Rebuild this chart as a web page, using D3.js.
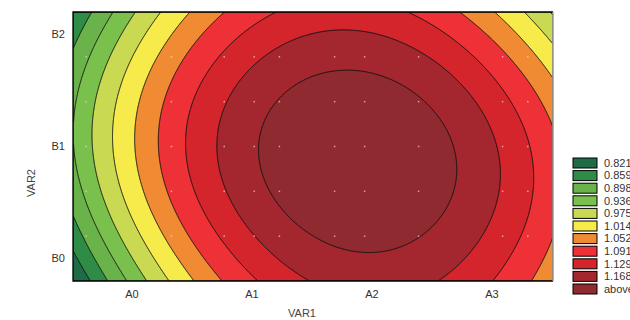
<!DOCTYPE html>
<html>
<head>
<meta charset="utf-8">
<script src="https://cdn.jsdelivr.net/npm/d3@7"></script>
<style>
  body { margin: 0; background: #fff; }
  svg { display: block; font-family: "Liberation Sans", Arial, sans-serif; }
</style>
</head>
<body>
<script>
const var1Labels = ["A0", "A1", "A2", "A3"]
const var2Labels = ["B0", "B1", "B2"]
const levels = [0.821, 0.859, 0.898, 0.936, 0.975, 1.014, 1.052, 1.091, 1.129, 1.168]
const legendLabels = ["0.821", "0.859", "0.898", "0.936", "0.975", "1.014", "1.052", "1.091", "1.129", "1.168", "above"]
const bandColors = ["#1f6b47", "#2e8c47", "#6ab24a", "#79c14c", "#c9d952", "#f6eb4a",
                    "#f18b33", "#ee3136", "#d3252b", "#a4272f", "#8e2a30"]

// surface, on a coarse grid (VAR1 index, VAR2 index)
const gridX = [-0.5, 0, 0.5, 1, 1.5, 2, 2.5, 3, 3.5]
const gridY = [2.2, 1.8, 1.4, 1.0, 0.6, 0.2, -0.2]
const surface = [
  [0.819, 0.933, 1.018, 1.075, 1.107, 1.108, 1.072, 1.014, 0.933],
  [0.864, 0.986, 1.065, 1.116, 1.150, 1.152, 1.127, 1.071, 0.990],
  [0.893, 1.002, 1.091, 1.148, 1.186, 1.190, 1.170, 1.108, 1.035],
  [0.896, 1.006, 1.098, 1.160, 1.194, 1.201, 1.181, 1.135, 1.060],
  [0.885, 1.000, 1.090, 1.159, 1.194, 1.203, 1.184, 1.133, 1.068],
  [0.830, 0.960, 1.052, 1.128, 1.173, 1.185, 1.163, 1.107, 1.052],
  [0.780, 0.920, 1.010, 1.081, 1.129, 1.147, 1.131, 1.090, 1.030]
]

// faint sample markers
const obsX = [-0.39, 0.32, 0.76, 1.01, 1.22, 1.68, 1.93, 2.38, 3.08, 3.29]
const obsY = [0.2, 0.6, 1.0, 1.4, 1.8]

const width = 630
const height = 320

const x = d3.scaleLinear([-0.5, 3.5], [73, 553])
const y = d3.scaleLinear([-0.2, 2.2], [281, 12])

// smooth the read grid with a least squares polynomial surface (total degree 4)
function fitSurface() {
  const terms = []
  for (let p = 0; p <= 4; p++)
    for (let q = 0; q <= 4 - p; q++) terms.push([p, q])
  const nu = v => (v - 1.5) / 2
  const nv = v => (v - 1) / 1.2
  const n = terms.length
  const A = terms.map(() => new Array(n).fill(0))
  const b = new Array(n).fill(0)
  surface.forEach((row, r) => row.forEach((z, c) => {
    const u = nu(gridX[c]), v = nv(gridY[r])
    const phi = terms.map(([p, q]) => u ** p * v ** q)
    for (let i = 0; i < n; i++) {
      b[i] += phi[i] * z
      for (let j = 0; j < n; j++) A[i][j] += phi[i] * phi[j]
    }
  }))
  // gaussian elimination
  for (let k = 0; k < n; k++) {
    let piv = k
    for (let i = k + 1; i < n; i++) if (Math.abs(A[i][k]) > Math.abs(A[piv][k])) piv = i
    ;[A[k], A[piv]] = [A[piv], A[k]]
    ;[b[k], b[piv]] = [b[piv], b[k]]
    for (let i = k + 1; i < n; i++) {
      const f = A[i][k] / A[k][k]
      for (let j = k; j < n; j++) A[i][j] -= f * A[k][j]
      b[i] -= f * b[k]
    }
  }
  const coef = new Array(n).fill(0)
  for (let i = n - 1; i >= 0; i--) {
    let s = b[i]
    for (let j = i + 1; j < n; j++) s -= A[i][j] * coef[j]
    coef[i] = s / A[i][i]
  }
  return (vx, vy) => {
    const u = nu(vx), v = nv(vy)
    let s = 0
    terms.forEach(([p, q], k) => { s += coef[k] * u ** p * v ** q })
    return s
  }
}

const sample = fitSurface()

const x0 = x.range()[0], y0 = y.range()[1]
const cols = x.range()[1] - x0
const rows = y.range()[0] - y0
const values = new Array(cols * rows)
for (let j = 0; j < rows; j++)
  for (let i = 0; i < cols; i++)
    values[j * cols + i] = sample(x.invert(x0 + i + 0.5), y.invert(y0 + j + 0.5))

const contours = d3.contours().size([cols, rows]).thresholds(levels)(values)

const svg = d3.select("body").append("svg")
  .attr("width", width)
  .attr("height", height)

svg.append("clipPath").attr("id", "plot-clip")
  .append("rect").attr("width", cols).attr("height", rows)

const plot = svg.append("g")
  .attr("transform", `translate(${x0},${y0})`)
  .attr("clip-path", "url(#plot-clip)")

plot.append("rect")
  .attr("width", cols)
  .attr("height", rows)
  .attr("fill", bandColors[0])

plot.selectAll("path")
  .data(contours)
  .join("path")
  .attr("d", d3.geoPath())
  .attr("fill", (d, i) => bandColors[i + 1])
  .attr("stroke", "#111")
  .attr("stroke-width", 1)
  .attr("stroke-linejoin", "round")

svg.append("g")
  .selectAll("rect")
  .data(d3.cross(obsX, obsY))
  .join("rect")
  .attr("x", d => x(d[0]) - 0.75)
  .attr("y", d => y(d[1]) - 0.75)
  .attr("width", 1.5)
  .attr("height", 1.5)
  .attr("fill", "#f4d4d4")
  .attr("opacity", 0.7)

// frame
const frame = svg.append("g").attr("fill", "none")
frame.append("path")
  .attr("d", `M${x.range()[1]},${y0}H${x0}V${y.range()[0]}H${x.range()[1]}`)
  .attr("stroke", "#000")
  .attr("stroke-width", 1.3)
frame.append("line")
  .attr("x1", x.range()[1]).attr("x2", x.range()[1])
  .attr("y1", y0).attr("y2", y.range()[0])
  .attr("stroke", "#9a9a9a")
  .attr("stroke-width", 1.5)

// axes labels
svg.append("g")
  .attr("font-size", 11)
  .attr("fill", "#333")
  .attr("text-anchor", "middle")
  .selectAll("text")
  .data(var1Labels)
  .join("text")
  .attr("x", (d, i) => x(i) - 1)
  .attr("y", 298)
  .text(d => d)

svg.append("g")
  .attr("font-size", 11)
  .attr("fill", "#333")
  .attr("text-anchor", "end")
  .selectAll("text")
  .data(var2Labels)
  .join("text")
  .attr("x", 65)
  .attr("y", (d, i) => y(i))
  .attr("dy", "0.35em")
  .text(d => d)

svg.append("text")
  .attr("x", 302)
  .attr("y", 317)
  .attr("font-size", 11)
  .attr("fill", "#444")
  .attr("text-anchor", "middle")
  .text("VAR1")

svg.append("text")
  .attr("transform", "translate(35,183) rotate(-90)")
  .attr("font-size", 11)
  .attr("fill", "#444")
  .attr("text-anchor", "middle")
  .text("VAR2")

// legend
const ly = d3.scaleLinear([0, legendLabels.length - 1], [163, 289])
const legend = svg.append("g")
  .selectAll("g")
  .data(legendLabels)
  .join("g")
  .attr("transform", (d, i) => `translate(573,${ly(i)})`)

legend.append("rect")
  .attr("y", -5)
  .attr("width", 24)
  .attr("height", 10)
  .attr("fill", (d, i) => bandColors[i])
  .attr("stroke", "#000")
  .attr("stroke-width", 1)

legend.append("text")
  .attr("x", 31)
  .attr("dy", "0.35em")
  .attr("font-size", 11)
  .attr("fill", "#333")
  .text(d => d)
</script>
</body>
</html>
